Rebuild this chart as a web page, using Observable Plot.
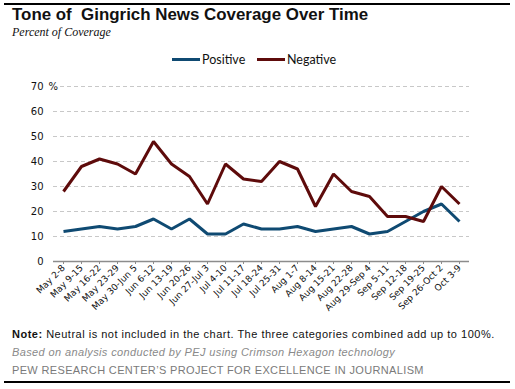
<!DOCTYPE html>
<html>
<head>
<meta charset="utf-8">
<script src="https://cdn.jsdelivr.net/npm/d3@7"></script>
<script src="https://cdn.jsdelivr.net/npm/@observablehq/plot@0.6"></script>
<style>
  html, body { margin: 0; padding: 0; background: #fff; }
  #wrap { position: relative; width: 515px; height: 389px; overflow: hidden; font-family: "DejaVu Sans", sans-serif; }
  .rule { position: absolute; left: 4px; width: 506px; background: #000; }
  #title { position: absolute; left: 12px; top: 5px; font-family: "Liberation Sans", Arial, sans-serif; font-weight: bold; font-size: 16.9px; color: #111; white-space: nowrap; }
  #subtitle { position: absolute; left: 12px; top: 25px; font-family: "Liberation Serif", serif; font-style: italic; font-size: 12px; color: #111; white-space: nowrap; }
  #legend { position: absolute; top: 52px; left: 172px; font-family: Lato, "Open Sans", sans-serif; font-size: 12.5px; color: #111; white-space: nowrap; }
  #legend .item { position: absolute; top: 0; display: flex; align-items: center; }
  #legend .sw { display: inline-block; width: 28px; height: 3px; margin-right: 2px; }
  #chart { position: absolute; left: 0; top: 70px; }
  #note { position: absolute; left: 12px; top: 328px; font-family: "Liberation Sans", sans-serif; font-size: 11px; letter-spacing: 0.5px; color: #111; white-space: nowrap; }
  #source { position: absolute; left: 12px; top: 346px; font-family: "Liberation Sans", sans-serif; font-style: italic; font-size: 11px; letter-spacing: 0.38px; color: #8a8a8a; white-space: nowrap; }
  #credit { position: absolute; left: 12px; top: 364px; font-family: "Liberation Sans", sans-serif; font-size: 11px; letter-spacing: 0.35px; color: #7a7a7a; white-space: nowrap; }
</style>
</head>
<body>
<div id="wrap">
  <div class="rule" style="top:3px;height:2px;"></div>
  <div id="title">Tone of&nbsp; Gingrich News Coverage Over Time</div>
  <div id="subtitle">Percent of Coverage</div>
  <div id="legend"></div>
  <div id="chart"></div>
  <div id="note"><b>Note:</b> Neutral is not included in the chart. The three categories combined add up to 100%.</div>
  <div id="source">Based on analysis conducted by PEJ using Crimson Hexagon technology</div>
  <div id="credit">PEW RESEARCH CENTER’S PROJECT FOR EXCELLENCE IN JOURNALISM</div>
  <div class="rule" style="top:381px;height:2px;"></div>
</div>
<script>
const weeks = ["May 2-8","May 9-15","May 16-22","May 23-29","May 30-Jun 5","Jun 6-12","Jun 13-19","Jun 20-26","Jun 27-Jul 3","Jul 4-10","Jul 11-17","Jul 18-24","Jul 25-31","Aug 1-7","Aug 8-14","Aug 15-21","Aug 22-28","Aug 29-Sep 4","Sep 5-11","Sep 12-18","Sep 19-25","Sep 26-Oct 2","Oct 3-9"];
const positive = [12,13,14,13,14,17,13,17,11,11,15,13,13,14,12,13,14,11,12,16,20,23,16];
const negative = [28,38,41,39,35,48,39,34,23,39,33,32,40,37,22,35,28,26,18,18,16,30,23];
const seriesNames = ["Positive","Negative"];
const seriesColors = ["#0f4a72","#5e0b0b"];
const yTicks = [0,10,20,30,40,50,60,70];

const rows = [];
weeks.forEach((w, i) => {
  rows.push({week: w, series: seriesNames[0], value: positive[i]});
  rows.push({week: w, series: seriesNames[1], value: negative[i]});
});

// legend
const legend = document.getElementById("legend");
const legendOffsets = [0, 85];
seriesNames.forEach((name, i) => {
  const item = document.createElement("div");
  item.className = "item";
  item.style.left = legendOffsets[i] + "px";
  item.innerHTML = `<span class="sw" style="background:${seriesColors[i]}"></span><span>${name}</span>`;
  legend.appendChild(item);
});

const chart = Plot.plot({
  width: 515,
  height: 262,
  marginTop: 16,
  marginBottom: 71,
  marginLeft: 53,
  marginRight: 46,
  style: {fontFamily: "DejaVu Sans, sans-serif", fontSize: "10px", color: "#111", background: "transparent"},
  x: {type: "point", domain: weeks, padding: 0},
  y: {domain: [0, 70]},
  color: {domain: seriesNames, range: seriesColors},
  marks: [
    Plot.gridY(yTicks.filter(d => d > 0), {stroke: "#c8c8c8", strokeOpacity: 1, strokeDasharray: "4,3"}),
    Plot.axisY({ticks: yTicks, tickSize: 0, tickPadding: 10, label: null, fontSize: 10}),
    Plot.text([70], {y: d => d, frameAnchor: "left", text: () => "%", textAnchor: "start", dx: -5, fontSize: 10, fill: "#111", stroke: "white", strokeWidth: 3, paintOrder: "stroke"}),
    Plot.axisX({tickRotate: -45, tickSize: 3, tickPadding: 2, label: null, fontSize: 9, stroke: "#8c8c8c"}),
    Plot.ruleY([0], {stroke: "#8c8c8c", strokeWidth: 1.5}),
    Plot.line(rows, {x: "week", y: "value", z: "series", stroke: "series", strokeWidth: 3, strokeLinejoin: "miter", strokeLinecap: "butt"})
  ]
});
document.getElementById("chart").appendChild(chart);
</script>
</body>
</html>
